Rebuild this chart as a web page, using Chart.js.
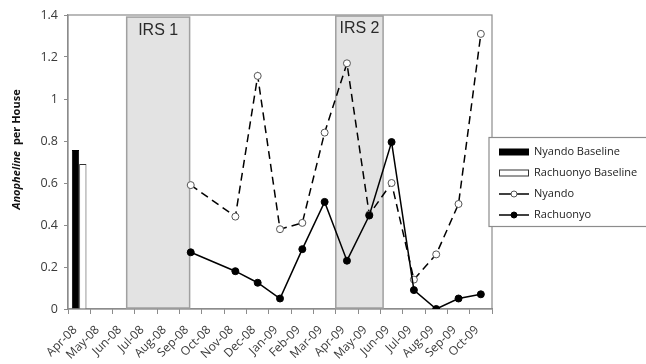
<!DOCTYPE html>
<html>
<head>
<meta charset="utf-8">
<script src="https://cdn.jsdelivr.net/npm/chart.js@4.4.0/dist/chart.umd.min.js"></script>
<style>
    html, body { margin: 0; padding: 0; background: #fff; }
    #wrap { width: 646px; height: 364px; position: relative; }
</style>
</head>
<body>
<div id="wrap"><canvas id="mosquitoChart" width="646" height="364"></canvas></div>
<script>
// =============================================
// data
// =============================================

var months = ["Apr-08", "May-08", "Jun-08", "Jul-08", "Aug-08", "Sep-08", "Oct-08",
    "Nov-08", "Dec-08", "Jan-09", "Feb-09", "Mar-09", "Apr-09", "May-09", "Jun-09",
    "Jul-09", "Aug-09", "Sep-09", "Oct-09"];

var nyandoBaseline = [0.757, null, null, null, null, null, null, null, null, null,
    null, null, null, null, null, null, null, null, null];
var rachuonyoBaseline = [0.69, null, null, null, null, null, null, null, null, null,
    null, null, null, null, null, null, null, null, null];

var nyando = [null, null, null, null, null, 0.59, null, 0.44, 1.11, 0.38, 0.41,
    0.84, 1.17, 0.45, 0.60, 0.14, 0.26, 0.50, 1.31];
var rachuonyo = [null, null, null, null, null, 0.27, null, 0.18, 0.125, 0.05, 0.285,
    0.51, 0.23, 0.445, 0.795, 0.09, 0.0, 0.05, 0.07];

// spraying rounds, in month-index units (0 = Apr-08)
var irsNames = ["IRS 1", "IRS 2"];
var irsStart = [2.13, 11.5];
var irsEnd = [4.95, 13.62];
var irsTop = [1.39, 1.395];

var yMin = 0;
var yMax = 1.4;
var yStep = 0.2;

var axisGrey = "#8c8c8c";
var textColor = "#3a3a3a";

// =============================================
// plugins
// =============================================

// grey IRS boxes behind the lines + plot frame
var irsPlugin = {
    id: "irsBoxes",
    beforeDatasetsDraw: function(chart) {
        var ctx = chart.ctx;
        var xs = chart.scales.x;
        var ys = chart.scales.y;
        var area = chart.chartArea;

        ctx.save();
        ctx.strokeStyle = axisGrey;
        ctx.lineWidth = 1.2;
        ctx.strokeRect(area.left, area.top, area.right - area.left, area.bottom - area.top);

        for (var i = 0; i < irsNames.length; i++) {
            var x0 = xs.getPixelForValue(irsStart[i]);
            var x1 = xs.getPixelForValue(irsEnd[i]);
            var y0 = ys.getPixelForValue(irsTop[i]);
            var y1 = ys.getPixelForValue(0) - 1;
            ctx.fillStyle = "#e3e3e3";
            ctx.fillRect(x0, y0, x1 - x0, y1 - y0);
            ctx.strokeStyle = "#a0a0a0";
            ctx.lineWidth = 1.5;
            ctx.strokeRect(x0, y0, x1 - x0, y1 - y0);

            ctx.fillStyle = "#2a2a2a";
            ctx.font = "16px 'Liberation Sans', Arial, sans-serif";
            ctx.textAlign = "center";
            ctx.textBaseline = "middle";
            ctx.fillText(irsNames[i], (x0 + x1) / 2, y0 + 13);
        }
        ctx.restore();
    }
};

// y title: italic species name + plain rest
var yTitlePlugin = {
    id: "yTitle",
    afterDraw: function(chart) {
        var ctx = chart.ctx;
        var partA = "Anopheline";
        var partB = "  per House";
        var fontA = "italic bold 11px 'Open Sans', sans-serif";
        var fontB = "bold 11px 'Open Sans', sans-serif";
        ctx.save();
        ctx.font = fontA;
        var wA = ctx.measureText(partA).width;
        ctx.font = fontB;
        var wB = ctx.measureText(partB).width;
        ctx.translate(17, chart.scales.y.getPixelForValue(0.76));
        ctx.rotate(-Math.PI / 2);
        ctx.fillStyle = "#111";
        ctx.textBaseline = "middle";
        ctx.textAlign = "left";
        ctx.font = fontA;
        ctx.fillText(partA, -(wA + wB) / 2, 0);
        ctx.font = fontB;
        ctx.fillText(partB, -(wA + wB) / 2 + wA, 0);
        ctx.restore();
    }
};

// boxed legend sitting over the right edge of the plot
var legendPlugin = {
    id: "boxLegend",
    afterDraw: function(chart) {
        var ctx = chart.ctx;
        var sets = chart.data.datasets;
        var left = chart.chartArea.right - 3;
        var top = 137.5;
        var rowH = 21;

        ctx.save();
        ctx.fillStyle = "#fff";
        ctx.fillRect(left, top, 200, 89);
        ctx.strokeStyle = axisGrey;
        ctx.lineWidth = 1.2;
        ctx.strokeRect(left, top, 200, 89);

        for (var i = 0; i < sets.length; i++) {
            var ds = sets[i];
            var cy = top + 14.5 + i * rowH;
            var sx = left + 10;
            var sw = 30;

            if (ds.type === "line") {
                ctx.setLineDash([]);
                ctx.strokeStyle = "#000";
                ctx.lineWidth = 1.5;
                ctx.beginPath();
                ctx.moveTo(sx, cy);
                ctx.lineTo(sx + sw, cy);
                ctx.stroke();
                ctx.beginPath();
                ctx.arc(sx + sw / 2, cy, 3, 0, Math.PI * 2);
                ctx.fillStyle = ds.pointBackgroundColor;
                ctx.fill();
                ctx.lineWidth = 1;
                ctx.strokeStyle = ds.pointBorderColor;
                ctx.stroke();
            } else {
                ctx.fillStyle = ds.backgroundColor;
                ctx.fillRect(sx, cy - 3, sw, 6);
                ctx.strokeStyle = ds.borderColor;
                ctx.lineWidth = 1;
                ctx.strokeRect(sx + 0.5, cy - 3, sw - 1, 6);
            }

            ctx.fillStyle = "#222";
            ctx.font = "11px 'Open Sans', sans-serif";
            ctx.textAlign = "left";
            ctx.textBaseline = "middle";
            ctx.fillText(ds.label, sx + sw + 5, cy);
        }
        ctx.restore();
    }
};

// =============================================
// chart
// =============================================

var ctxChart = document.getElementById("mosquitoChart");

new Chart(ctxChart, {
    type: "bar",
    data: {
        labels: months,
        datasets: [{
                type: "bar",
                label: "Nyando Baseline",
                data: nyandoBaseline,
                backgroundColor: "#000",
                borderColor: "#000",
                borderWidth: 1,
                categoryPercentage: 0.655,
                barPercentage: 1.0,
                order: 2,
            },
            {
                type: "bar",
                label: "Rachuonyo Baseline",
                data: rachuonyoBaseline,
                backgroundColor: "#fff",
                borderColor: "#333",
                borderWidth: 1,
                categoryPercentage: 0.655,
                barPercentage: 1.0,
                order: 3,
            },
            {
                type: "line",
                label: "Nyando",
                data: nyando,
                borderColor: "#000",
                borderWidth: 1.5,
                borderDash: [8, 5],
                pointRadius: 3.5,
                pointBackgroundColor: "#fff",
                pointBorderColor: "#555",
                pointBorderWidth: 1,
                spanGaps: true,
                tension: 0,
                order: 1,
            },
            {
                type: "line",
                label: "Rachuonyo",
                data: rachuonyo,
                borderColor: "#000",
                borderWidth: 1.5,
                pointRadius: 3.5,
                pointBackgroundColor: "#000",
                pointBorderColor: "#000",
                pointBorderWidth: 1,
                spanGaps: true,
                tension: 0,
                order: 0,
            },
        ],
    },
    options: {
        responsive: false,
        animation: false,
        devicePixelRatio: 1,
        layout: { padding: { top: 15, right: 154, left: 0, bottom: 0 } },
        plugins: {
            legend: { display: false },
            tooltip: { enabled: false },
        },
        scales: {
            x: {
                offset: true,
                grid: {
                    display: true,
                    drawOnChartArea: false,
                    tickLength: 5,
                    color: axisGrey,
                    offset: true,
                },
                border: { color: axisGrey, width: 1.2 },
                ticks: {
                    autoSkip: false,
                    minRotation: 45,
                    maxRotation: 45,
                    labelOffset: -4,
                    padding: 9,
                    color: textColor,
                    font: { family: "'Open Sans', sans-serif", size: 12 },
                },
                afterFit: function(scale) {
                    scale.height = 55;
                },
            },
            y: {
                min: yMin,
                max: yMax,
                grid: {
                    display: true,
                    drawOnChartArea: false,
                    tickLength: 4,
                    color: axisGrey,
                },
                border: { color: axisGrey, width: 1.2 },
                ticks: {
                    stepSize: yStep,
                    padding: 6,
                    color: textColor,
                    font: { family: "'Open Sans', sans-serif", size: 12.5 },
                    callback: function(v) {
                        return String(Math.round(v * 10) / 10);
                    },
                },
                afterFit: function(scale) {
                    scale.width = 68;
                },
            },
        },
    },
    plugins: [irsPlugin, yTitlePlugin, legendPlugin],
});
</script>
</body>
</html>
